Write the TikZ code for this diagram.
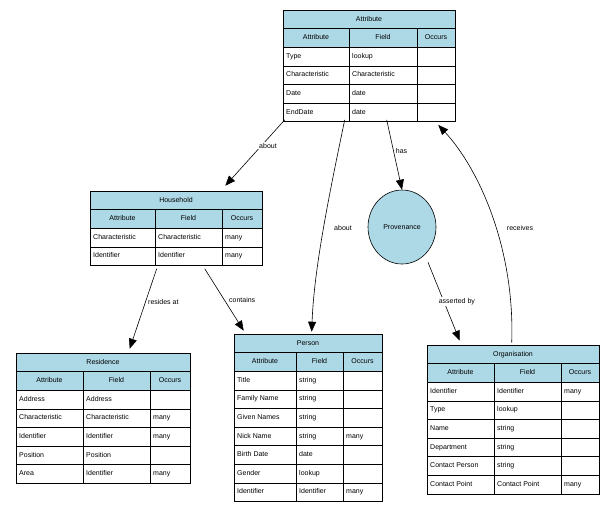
\documentclass[tikz,border=0pt]{standalone}
\usepackage{fontspec}
\setmainfont{Liberation Sans}
\usetikzlibrary{shapes.geometric,arrows.meta}
\definecolor{lb}{RGB}{173,216,230}
\tikzset{
  cell/.style={font=\fontsize{7}{8}\selectfont,inner sep=0pt,anchor=west,text height=5pt,text depth=1.5pt},
  ctr/.style={font=\fontsize{7}{8}\selectfont,inner sep=0pt,text height=5pt,text depth=1.5pt},
  edge/.style={-{Triangle[length=10pt,width=8pt]},semithick},
  lbl/.style={font=\fontsize{7}{8}\selectfont,fill=white,inner sep=1pt}
}
% #1 name #2 x0 #3 col1 #4 col2 #5 x3 #6 y0 #7 title #8 rows #9 nrows
\newcommand\mytbl[9]{%
  \pgfmathsetmacro\rh{18.6}
  \fill[lb] (#2,#6) rectangle (#5,{#6+2*\rh});
  \node[draw,semithick,inner sep=0,minimum width={(#5-#2)*1pt},minimum height={(2+#9)*\rh*1pt}] (#1) at ({(#2+#5)/2},{#6+(2+#9)*\rh/2}) {};
  \foreach \k in {1,...,\numexpr#9+1\relax} \draw (#2,{#6+\k*\rh}) -- (#5,{#6+\k*\rh});
  \draw (#3,{#6+\rh}) -- (#3,{#6+(2+#9)*\rh});
  \draw (#4,{#6+\rh}) -- (#4,{#6+(2+#9)*\rh});
  \node[ctr] at ({(#2+#5)/2},{#6+0.5*\rh}) {#7};
  \node[ctr] at ({(#2+#3)/2},{#6+1.5*\rh}) {Attribute};
  \node[ctr] at ({(#3+#4)/2},{#6+1.5*\rh}) {Field};
  \node[ctr] at ({(#4+#5)/2},{#6+1.5*\rh}) {Occurs};
  \foreach \a/\b/\c [count=\i] in {#8} {
    \node[cell] at ({#2+3},{#6+(\i+1.5)*\rh}) {\a};
    \node[cell] at ({#3+3},{#6+(\i+1.5)*\rh}) {\b};
    \node[cell] at ({#4+3},{#6+(\i+1.5)*\rh}) {\c};
  }
}
\begin{document}
\begin{tikzpicture}[x=1pt,y=-1pt]
\useasboundingbox (0,0) rectangle (615,515);
\mytbl{attr}{283}{349}{417}{455}{10}{Attribute}{Type/lookup/,Characteristic/Characteristic/,Date/date/,EndDate/date/}{4}
\mytbl{house}{90}{155}{222}{262}{191}{Household}{Characteristic/Characteristic/many,Identifier/Identifier/many}{2}
\mytbl{res}{16}{83}{150}{190}{353}{Residence}{Address/Address/,Characteristic/Characteristic/many,Identifier/Identifier/many,Position/Position/,Area/Identifier/many}{5}
\mytbl{person}{234}{296}{343}{382}{334}{Person}{Title/string/,Family Name/string/,Given Names/string/,Nick Name/string/many,Birth Date/date/,Gender/lookup/,Identifier/Identifier/many}{7}
\mytbl{org}{427}{494}{561}{599}{345}{Organisation}{Identifier/Identifier/many,Type/lookup/,Name/string/,Department/string/,Contact Person/string/,Contact Point/Contact Point/many}{6}
\node[ellipse,draw,semithick,fill=lb,minimum width=68pt,minimum height=74pt,inner sep=0pt,font=\fontsize{7}{8}\selectfont] (prov) at (402,227) {Provenance};

\draw[edge] ([shift={(2,-2)}]attr.south west) -- node[lbl,pos=0.45,xshift=10pt,yshift=4pt]{about} ([shift={(-37,-5)}]house.north east);
\draw[edge] ([shift={(62,-2)}]attr.south west) .. controls (328,200) and (314,270) .. ([shift={(78,-2)}]person.north west);
\node[lbl] at (343,228) {about};
\draw[edge] ([shift={(104,-2)}]attr.south west) -- node[lbl,pos=0.45,xshift=8pt]{has} (prov.north);
\draw[edge] ([shift={(26,-2)}]prov.south) -- node[lbl,xshift=13pt]{asserted by} ([shift={(33,-4)}]org.north west);
\draw[edge] ([shift={(85,-2)}]org.north west) .. controls (515,250) and (480,170) .. ([shift={(-17,3)}]attr.south east);
\node[lbl] at (520,228) {receives};
\draw[edge] ([shift={(67,3)}]house.south west) -- node[lbl,pos=0.42,xshift=18pt]{resides at} ([shift={(114,-4)}]res.north west);
\draw[edge] ([shift={(115,3)}]house.south west) -- node[lbl,pos=0.5,xshift=18pt]{contains} ([shift={(10,-3)}]person.north west);
\end{tikzpicture}
\end{document}
